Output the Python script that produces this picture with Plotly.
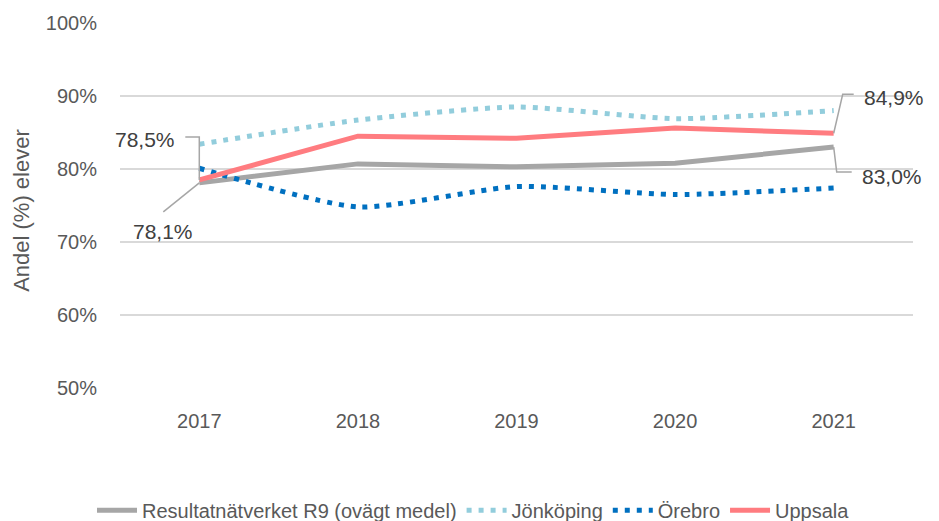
import plotly.graph_objects as go

years = [2017, 2018, 2019, 2020, 2021]
r9 = [78.1, 80.7, 80.3, 80.8, 83.0]
jonkoping = [83.4, 86.7, 88.5, 86.9, 88.0]
orebro = [80.1, 74.8, 77.6, 76.5, 77.4]
uppsala = [78.5, 84.5, 84.2, 85.6, 84.9]

names = ["Resultatnätverket R9 (ovägt medel)", "Jönköping", "Örebro", "Uppsala"]
yticks = [50, 60, 70, 80, 90, 100]
yticklabels = ["50%", "60%", "70%", "80%", "90%", "100%"]
ytitle = "Andel (%) elever"

FONT = "Liberation Sans, Arial, sans-serif"

fig = go.Figure()
fig.add_trace(go.Scatter(x=years, y=r9, name=names[0], mode="lines",
                         line=dict(color="#A6A6A6", width=5)))
fig.add_trace(go.Scatter(x=years, y=jonkoping, name=names[1], mode="lines",
                         line=dict(color="#92CDDC", width=5, dash="5px,7px",
                                   shape="spline", smoothing=0.6)))
fig.add_trace(go.Scatter(x=years, y=orebro, name=names[2], mode="lines",
                         line=dict(color="#0070C0", width=5, dash="5px,7px",
                                   shape="spline", smoothing=0.6)))
fig.add_trace(go.Scatter(x=years, y=uppsala, name=names[3], mode="lines",
                         line=dict(color="#FF7C80", width=5)))


def fmt(v):
    return f"{v:.1f}".replace(".", ",") + "%"


# data labels with elbow leader lines (pixel offsets anchored at data points)
labels = [
    # (x, y, path, xanchor, xshift, yshift)
    (years[0], uppsala[0], "M0,0 L0,43 L-14,43", "right", -22, 40),
    (years[0], r9[0], "M0,0 L-36,-29", "center", -36, -49),
    (years[-1], uppsala[-1], "M0,0 L9,39 L20,39", "left", 28, 36),
    (years[-1], r9[-1], "M0,0 L3,-25 L18,-25", "left", 26, -29),
]
for x, y, path, xa, xs, ys in labels:
    fig.add_shape(type="path", xref="x", yref="y", xsizemode="pixel",
                  ysizemode="pixel", xanchor=x, yanchor=y, path=path,
                  line=dict(color="#A6A6A6", width=1.5))
    fig.add_annotation(x=x, y=y, xref="x", yref="y", text=fmt(y),
                       showarrow=False, xanchor=xa, yanchor="middle",
                       xshift=xs, yshift=ys,
                       font=dict(family=FONT, size=21, color="#404040"))

# y-axis title
fig.add_annotation(text=ytitle, xref="paper", yref="paper", x=-0.1236, y=0.488,
                   xanchor="center", yanchor="middle", textangle=-90,
                   showarrow=False,
                   font=dict(family=FONT, size=22, color="#595959"))

fig.update_layout(
    width=931, height=513,
    margin=dict(l=112, r=26, t=15, b=133, autoexpand=False),
    paper_bgcolor="white", plot_bgcolor="white",
    font=dict(family=FONT, size=20, color="#595959"),
    showlegend=True,
    legend=dict(orientation="h", xref="container", yref="container",
                x=0.5, xanchor="center", y=0.021, yanchor="middle",
                itemwidth=40, font=dict(family=FONT, size=20, color="#595959"),
                tracegroupgap=0),
)
fig.update_xaxes(range=[2016.5, 2021.5], tickmode="array", tickvals=years,
                 ticktext=[str(y) for y in years], showgrid=False,
                 zeroline=False, showline=False, ticklabelstandoff=19,
                 automargin=False,
                 tickfont=dict(size=20, color="#595959"))
fig.update_yaxes(range=[50, 100], tickmode="array", tickvals=yticks,
                 ticktext=yticklabels, showgrid=True, gridcolor="#D9D9D9",
                 gridwidth=1.5, zeroline=False, showline=False,
                 ticklabelstandoff=22, automargin=False,
                 tickfont=dict(size=20, color="#595959"))

fig.write_html("out.html")
